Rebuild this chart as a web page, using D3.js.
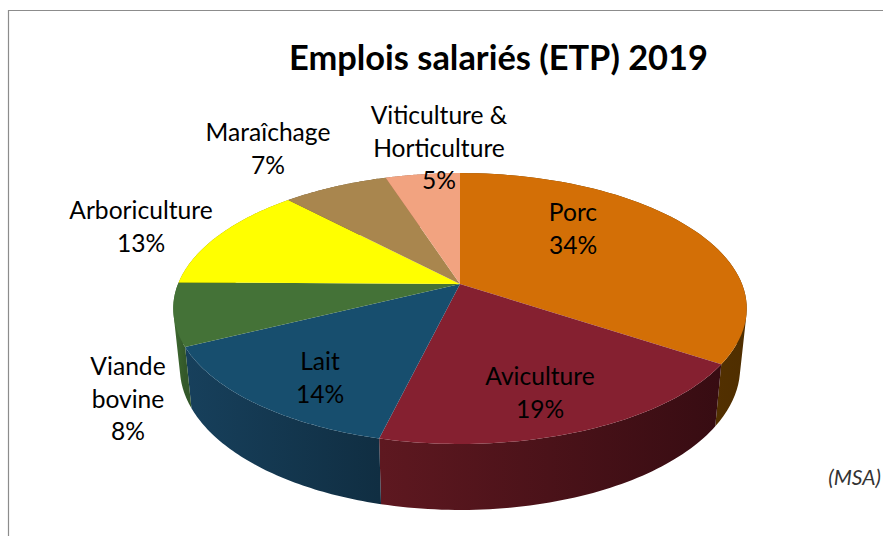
<!DOCTYPE html>
<html lang="fr">
<head>
<meta charset="utf-8">
<title>Emplois salariés (ETP) 2019</title>
<script src="https://d3js.org/d3.v7.min.js"></script>
<style>
  html, body { margin: 0; padding: 0; background: #fff; }
  svg { display: block; }
  text { font-family: Lato, "Open Sans", sans-serif; fill: #000; }
</style>
</head>
<body>
<script>
// values (labels round them)
var categories = ["Porc", "Aviculture", "Lait", "Viande bovine", "Arboriculture", "Maraîchage", "Viticulture & Horticulture"];
var values = [34.3, 19.49, 13.9, 7.5, 12.7, 7.1, 5.0];
var labelLines = [["Porc"], ["Aviculture"], ["Lait"], ["Viande", "bovine"], ["Arboriculture"], ["Maraîchage"], ["Viticulture &", "Horticulture"]];

var topColors = ["#d36f06", "#852030", "#174e6e", "#447237", "#ffff00", "#a9864e", "#f2a380"];
var wallLeft = ["#6b3f00", "#5e1820", "#17405c", "#3f6a30", "#8a8a00", "#6b5530", "#a06a50"];
var wallRight = ["#4f2e00", "#370c12", "#102e42", "#33582a", "#8a8a00", "#6b5530", "#a06a50"];

// centre of the first line of each label
var labelAt = [[573, 213], [540, 377], [320, 362], [128, 367], [141, 211], [268, 133], [439, 116]];

var width = 883, height = 536;
var apex = [460, 284];

// perspective of the tilted disc
var persp = 0.181, sx = 282, sy = 131;
function project(a) {
    var x = Math.sin(a), y = -Math.cos(a), w = 1 - persp * y;
    return [sx * x / w, sy * y / w];
}
function topPoint(a) {
    var p = project(a);
    return [apex[0] + p[0], apex[1] + p[1]];
}
function bottomPoint(a) {
    var p = project(a);
    return [apex[0] + 0.977 * p[0], apex[1] + 1.05 * p[1] + 58];
}
function samples(a0, a1) {
    return d3.range(0, 61).map(function(i) { return a0 + (a1 - a0) * i / 60; });
}

var line = d3.line();
var pie = d3.pie().sort(null).value(function(d) { return d; });
var slices = pie(values);

var svg = d3.select("body").append("svg")
    .attr("width", width)
    .attr("height", height);

// frame, only top and left are in the crop
svg.append("path")
    .attr("d", "M883,10.5H8.5V536")
    .attr("fill", "none")
    .attr("stroke", "#8c8c8c")
    .attr("stroke-width", 1.2);

var defs = svg.append("defs");
slices.forEach(function(d, i) {
    var xs = samples(d.startAngle, d.endAngle).map(function(a) { return topPoint(a)[0]; });
    var g = defs.append("linearGradient")
        .attr("id", "wall" + i)
        .attr("gradientUnits", "userSpaceOnUse")
        .attr("x1", d3.min(xs)).attr("x2", d3.max(xs))
        .attr("y1", 0).attr("y2", 0);
    g.append("stop").attr("offset", 0).attr("stop-color", wallLeft[i]);
    g.append("stop").attr("offset", 1).attr("stop-color", wallRight[i]);
});

// outer walls as strips, all wound the same way or the silhouette cancels out
function wallPath(d) {
    var angles = samples(d.startAngle, d.endAngle);
    return d3.pairs(angles).map(function(p) {
        var q = [topPoint(p[0]), topPoint(p[1]), bottomPoint(p[1]), bottomPoint(p[0])];
        if (d3.polygonArea(q) < 0) q.reverse();
        return line(q) + "Z";
    }).join("");
}

svg.append("g").selectAll("path")
    .data(slices)
    .enter().append("path")
    .attr("fill", function(d) { return "url(#wall" + d.index + ")"; })
    .attr("d", wallPath);

svg.append("g").selectAll("path")
    .data(slices)
    .enter().append("path")
    .attr("fill", function(d) { return topColors[d.index]; })
    .attr("d", function(d) {
        var pts = samples(d.startAngle, d.endAngle).map(topPoint);
        return line([apex].concat(pts)) + "Z";
    });

// labels
var lineGap = 32.5;
var labels = svg.append("g").selectAll("text")
    .data(slices)
    .enter().append("text")
    .attr("text-anchor", "middle")
    .attr("font-size", 24.6);

labels.each(function(d) {
    var el = d3.select(this);
    var pos = labelAt[d.index];
    var rows = labelLines[d.index].concat([Math.round(d.value) + "%"]);
    rows.forEach(function(r, j) {
        el.append("tspan")
            .attr("x", pos[0])
            .attr("y", pos[1] + j * lineGap + 8)
            .text(r);
    });
});

svg.append("text")
    .attr("x", 498.5).attr("y", 70)
    .attr("text-anchor", "middle")
    .attr("font-size", 34.4)
    .attr("font-weight", 700)
    .text("Emplois salariés (ETP) 2019");

svg.append("text")
    .attr("x", 881).attr("y", 485)
    .attr("text-anchor", "end")
    .attr("font-size", 21)
    .attr("font-style", "italic")
    .style("fill", "#333")
    .text("(MSA)");
</script>
</body>
</html>
